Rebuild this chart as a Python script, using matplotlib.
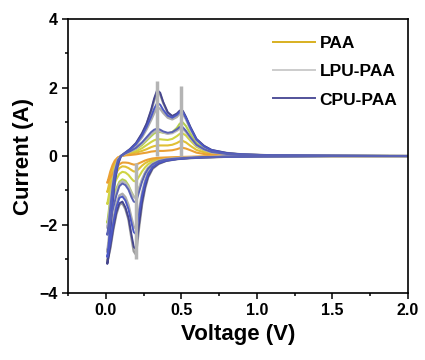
import matplotlib
matplotlib.use("Agg")
import matplotlib.pyplot as plt
from matplotlib.ticker import MultipleLocator

plt.rcParams['font.family'] = ['Liberation Sans', 'DejaVu Sans']
plt.rcParams['font.weight'] = 'bold'

# --- data ---
# cathodic sweep 2.0 V -> 0.01 V
v_cath = [2.0, 1.5, 1.0, 0.8, 0.65, 0.55, 0.47, 0.4, 0.35, 0.31, 0.28, 0.26, 0.24, 0.22, 0.2,
          0.185, 0.17, 0.15, 0.13, 0.11, 0.09, 0.07, 0.05, 0.03, 0.01]
# anodic sweep 0.01 V -> 2.0 V
v_anod = [0.01, 0.02, 0.03, 0.045, 0.06, 0.08, 0.1, 0.13, 0.16, 0.2, 0.24, 0.27, 0.3, 0.32, 0.34,
          0.36, 0.38, 0.41, 0.44, 0.47, 0.49, 0.51, 0.53, 0.56, 0.6, 0.65, 0.7, 0.8, 0.9, 1.1, 1.5, 2.0]

cpu_cath = [
    [0, 0, -0.01, -0.02, -0.04, -0.06, -0.09, -0.14, -0.22, -0.35, -0.6, -0.9, -1.35, -2.0, -2.72,
     -2.65, -2.3, -1.8, -1.5, -1.33, -1.38, -1.65, -2.1, -2.65, -3.15],
    [0, 0, -0.01, -0.02, -0.04, -0.06, -0.09, -0.13, -0.2, -0.32, -0.52, -0.78, -1.15, -1.7, -2.28,
     -2.22, -1.95, -1.55, -1.3, -1.18, -1.22, -1.5, -1.95, -2.5, -2.95],
    [0, 0, -0.01, -0.02, -0.03, -0.05, -0.07, -0.1, -0.15, -0.24, -0.37, -0.52, -0.75, -1.05, -1.35,
     -1.33, -1.2, -0.98, -0.85, -0.8, -0.88, -1.15, -1.5, -1.9, -2.3],
]
cpu_anod = [
    [-3.15, -2.75, -2.2, -1.4, -0.75, -0.25, 0.0, 0.1, 0.2, 0.38, 0.67, 0.95, 1.35, 1.68, 1.93,
     1.85, 1.58, 1.28, 1.17, 1.24, 1.33, 1.32, 1.15, 0.85, 0.5, 0.3, 0.18, 0.09, 0.05, 0.02, 0.01, 0],
    [-2.95, -2.55, -2.0, -1.25, -0.65, -0.2, 0.0, 0.1, 0.19, 0.35, 0.6, 0.85, 1.15, 1.38, 1.55,
     1.5, 1.35, 1.18, 1.12, 1.2, 1.29, 1.28, 1.12, 0.82, 0.48, 0.28, 0.17, 0.08, 0.05, 0.02, 0.01, 0],
    [-2.3, -1.95, -1.5, -0.9, -0.45, -0.12, 0.0, 0.08, 0.14, 0.24, 0.4, 0.55, 0.7, 0.77, 0.8,
     0.77, 0.72, 0.68, 0.7, 0.78, 0.85, 0.84, 0.74, 0.55, 0.33, 0.2, 0.12, 0.06, 0.04, 0.02, 0.01, 0],
]
lpu_cath = [
    [0, 0, -0.01, -0.02, -0.04, -0.06, -0.09, -0.14, -0.23, -0.37, -0.63, -0.95, -1.42, -2.1, -2.88,
     -2.78, -2.4, -1.85, -1.55, -1.38, -1.42, -1.7, -2.15, -2.7, -3.1],
    [0, 0, -0.01, -0.02, -0.04, -0.06, -0.08, -0.12, -0.19, -0.3, -0.48, -0.72, -1.07, -1.58, -2.12,
     -2.06, -1.8, -1.42, -1.2, -1.1, -1.15, -1.4, -1.82, -2.35, -2.8],
    [0, 0, -0.01, -0.01, -0.03, -0.04, -0.06, -0.09, -0.14, -0.22, -0.34, -0.48, -0.68, -0.95, -1.23,
     -1.2, -1.08, -0.9, -0.78, -0.74, -0.8, -1.05, -1.38, -1.75, -2.1],
]
lpu_anod = [
    [-3.1, -2.7, -2.15, -1.35, -0.72, -0.24, 0.0, 0.1, 0.2, 0.37, 0.64, 0.92, 1.3, 1.62, 1.87,
     1.8, 1.55, 1.26, 1.15, 1.22, 1.3, 1.29, 1.12, 0.83, 0.49, 0.29, 0.17, 0.09, 0.05, 0.02, 0.01, 0],
    [-2.8, -2.4, -1.9, -1.2, -0.62, -0.18, 0.0, 0.09, 0.18, 0.32, 0.55, 0.78, 1.05, 1.25, 1.42,
     1.38, 1.26, 1.12, 1.07, 1.14, 1.24, 1.23, 1.08, 0.78, 0.46, 0.27, 0.16, 0.08, 0.04, 0.02, 0.01, 0],
    [-2.1, -1.78, -1.35, -0.82, -0.4, -0.1, 0.0, 0.07, 0.13, 0.22, 0.37, 0.5, 0.64, 0.71, 0.75,
     0.73, 0.69, 0.65, 0.67, 0.74, 0.8, 0.79, 0.7, 0.52, 0.31, 0.19, 0.11, 0.06, 0.04, 0.02, 0.01, 0],
]
paa_cath = [
    [0, 0, -0.01, -0.02, -0.03, -0.05, -0.07, -0.1, -0.15, -0.23, -0.35, -0.5, -0.7, -0.95, -1.2,
     -1.18, -1.05, -0.85, -0.72, -0.68, -0.75, -0.95, -1.25, -1.6, -1.95],
    [0, 0, -0.01, -0.01, -0.02, -0.04, -0.05, -0.08, -0.11, -0.16, -0.24, -0.33, -0.45, -0.6, -0.74,
     -0.73, -0.66, -0.55, -0.48, -0.46, -0.52, -0.68, -0.9, -1.15, -1.4],
    [0, 0, 0, -0.01, -0.02, -0.03, -0.04, -0.06, -0.08, -0.11, -0.16, -0.21, -0.28, -0.37, -0.45,
     -0.45, -0.41, -0.35, -0.31, -0.3, -0.35, -0.48, -0.65, -0.85, -1.05],
    [0, 0, 0, -0.01, -0.01, -0.02, -0.03, -0.04, -0.05, -0.07, -0.1, -0.13, -0.17, -0.21, -0.25,
     -0.25, -0.23, -0.2, -0.19, -0.19, -0.24, -0.34, -0.48, -0.63, -0.78],
]
paa_anod = [
    [-1.95, -1.6, -1.2, -0.7, -0.35, -0.1, 0.0, 0.06, 0.12, 0.2, 0.32, 0.45, 0.58, 0.66, 0.7,
     0.7, 0.68, 0.66, 0.7, 0.82, 0.95, 0.98, 0.88, 0.65, 0.38, 0.22, 0.13, 0.07, 0.04, 0.02, 0.01, 0],
    [-1.4, -1.15, -0.85, -0.5, -0.25, -0.07, 0.0, 0.04, 0.08, 0.14, 0.23, 0.32, 0.41, 0.46, 0.49,
     0.49, 0.48, 0.47, 0.5, 0.58, 0.65, 0.66, 0.6, 0.45, 0.27, 0.16, 0.1, 0.05, 0.03, 0.02, 0.01, 0],
    [-1.05, -0.85, -0.62, -0.36, -0.18, -0.05, 0.0, 0.03, 0.06, 0.1, 0.15, 0.2, 0.26, 0.29, 0.31,
     0.31, 0.31, 0.31, 0.33, 0.38, 0.43, 0.44, 0.4, 0.3, 0.18, 0.11, 0.07, 0.04, 0.02, 0.01, 0, 0],
    [-0.78, -0.62, -0.45, -0.26, -0.13, -0.04, 0.0, 0.02, 0.03, 0.05, 0.08, 0.1, 0.13, 0.14, 0.15,
     0.15, 0.15, 0.16, 0.17, 0.2, 0.23, 0.24, 0.22, 0.17, 0.1, 0.06, 0.04, 0.02, 0.01, 0.01, 0, 0],
]

# vertical grey spikes seen on the LPU-PAA trace
spike_x = [0.2, 0.34, 0.5]
spike_lo = [-3.0, 0.0, 0.0]
spike_hi = [-0.2, 2.2, 2.05]

labels = ['PAA', 'LPU-PAA', 'CPU-PAA']
paa_colors = ['#b4d04c', '#cfd444', '#e0c034', '#eaa034']
lpu_colors = ['#9c9c9c', '#acacac', '#b8b8b8']
cpu_colors = ['#46468e', '#4c58c4', '#5a62b4']

fig = plt.figure(figsize=(4.25, 3.6), dpi=100)
ax = fig.add_axes([0.16, 0.186, 0.80, 0.761])

for i in range(len(paa_cath)):
    ax.plot(v_cath + v_anod, paa_cath[i] + paa_anod[i], color=paa_colors[i], lw=1.5)
for i in range(len(lpu_cath)):
    ax.plot(v_cath + v_anod, lpu_cath[i] + lpu_anod[i], color=lpu_colors[i], lw=1.7)
for i in range(len(cpu_cath)):
    ax.plot(v_cath + v_anod, cpu_cath[i] + cpu_anod[i], color=cpu_colors[i], lw=1.4)
ax.vlines(spike_x, spike_lo, spike_hi, color='#b4b4b4', lw=2.5)

# legend handles
h1, = ax.plot([], [], color='#d8b020', lw=1.4)
h2, = ax.plot([], [], color='#cccccc', lw=1.4)
h3, = ax.plot([], [], color='#52529a', lw=1.4)
ax.legend([h1, h2, h3], labels, loc='upper right', bbox_to_anchor=(1.015, 0.995),
          frameon=False, handlelength=2.4, handletextpad=0.3, labelspacing=0.75,
          prop={'size': 12.5, 'weight': 'bold'})

ax.set_xlim(-0.25, 2.0)
ax.set_ylim(-4, 4)
ax.xaxis.set_major_locator(MultipleLocator(0.5))
ax.xaxis.set_minor_locator(MultipleLocator(0.25))
ax.yaxis.set_major_locator(MultipleLocator(2))
ax.yaxis.set_minor_locator(MultipleLocator(1))
ax.tick_params(which='both', direction='out', width=1.1, labelsize=11.5)
ax.tick_params(which='major', length=4)
ax.tick_params(which='minor', length=2.5)
for s in ax.spines.values():
    s.set_linewidth(1.2)

ax.set_xlabel('Voltage (V)', fontsize=16, fontweight='bold')
ax.set_ylabel('Current (A)', fontsize=16, fontweight='bold')

fig.savefig('out.png', dpi=100)
